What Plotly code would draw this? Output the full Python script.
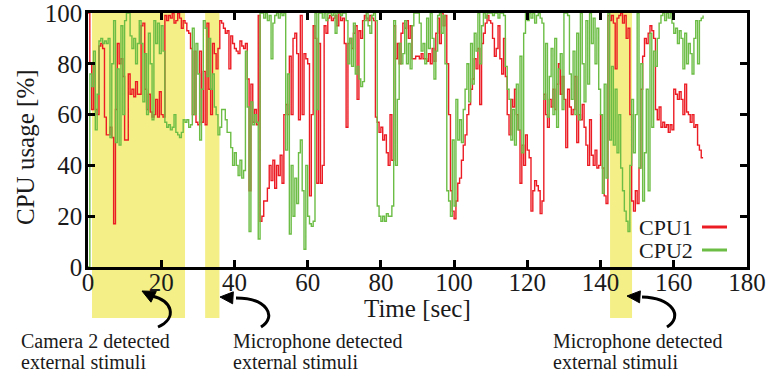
import numpy as np
import plotly.graph_objects as go

# Sampling step of the CPU monitor, seconds
SAMPLE_STEP = 0.5

# CPU usage samples [%], one row per 10 s of the run
cpu1 = [
    100, 80, 62, 80, 62, 60, 87, 88, 86, 59, 52, 52, 55, 51, 17, 62, 88, 80, 82, 75,
    50, 50, 76, 68, 70, 67, 73, 68, 68, 95, 96, 70, 62, 68, 61, 59, 60, 66, 59, 69,
    60, 59, 99, 97, 99, 98, 100, 96, 97, 100, 98, 94, 97, 96, 93, 92, 86, 60, 85, 57,
    56, 85, 57, 77, 56, 96, 70, 60, 88, 84, 78, 86, 97, 96, 94, 92, 93, 78, 91, 88,
    86, 85, 84, 89, 87, 86, 88, 74, 30, 72, 57, 62, 56, 99, 18, 20, 26, 26, 31, 40,
    34, 42, 31, 40, 36, 44, 33, 60, 64, 60, 83, 60, 90, 92, 84, 58, 99, 60, 84, 82,
    80, 28, 60, 95, 90, 33, 88, 33, 40, 95, 92, 98, 99, 97, 98, 99, 95, 100, 97, 98,
    88, 55, 88, 90, 86, 92, 95, 66, 93, 90, 97, 99, 98, 97, 99, 98, 97, 59, 57, 53,
    55, 50, 52, 45, 40, 60, 42, 95, 82, 88, 80, 92, 96, 94, 97, 90, 95, 82, 82, 83,
    83, 82, 84, 82, 82, 81, 84, 80, 86, 81, 92, 98, 88, 100, 95, 99, 80, 60, 30, 22,
    19, 26, 33, 35, 42, 48, 52, 60, 64, 70, 74, 82, 78, 86, 64, 88, 92, 96, 99, 97,
    96, 90, 83, 86, 95, 82, 76, 90, 75, 60, 52, 66, 63, 70, 60, 54, 33, 48, 40, 52,
    46, 43, 22, 30, 34, 32, 30, 21, 26, 68, 60, 55, 66, 63, 70, 62, 72, 80, 68, 75,
    66, 47, 70, 63, 60, 62, 75, 49, 60, 58, 64, 55, 48, 40, 58, 44, 40, 46, 39, 40,
    60, 39, 28, 25, 99, 97, 99, 96, 78, 98, 99, 100, 96, 99, 90, 94, 60, 26, 22, 30,
    25, 39, 70, 83, 90, 88, 92, 95, 93, 90, 62, 58, 63, 55, 57, 55, 56, 53, 56, 54,
    70, 68, 66, 69, 66, 60, 72, 61, 60, 57, 60, 55, 56, 48, 46, 43, 43,
]
cpu2 = [
    0, 76, 71, 85, 54, 68, 89, 90, 88, 89, 88, 90, 51, 80, 97, 49, 78, 48, 95, 60,
    97, 100, 100, 91, 86, 90, 80, 88, 97, 88, 65, 84, 60, 92, 80, 58, 97, 88, 96, 84,
    95, 85, 57, 55, 56, 54, 55, 60, 53, 52, 51, 53, 58, 57, 58, 55, 56, 94, 60, 88,
    76, 50, 70, 97, 94, 75, 90, 70, 76, 63, 60, 52, 55, 62, 62, 58, 53, 53, 47, 40,
    45, 40, 36, 42, 35, 38, 85, 63, 14, 65, 56, 60, 57, 11, 100, 100, 98, 100, 97, 99,
    82, 96, 99, 100, 98, 100, 99, 100, 46, 76, 13, 40, 20, 35, 25, 45, 50, 30, 7, 40,
    20, 17, 16, 18, 100, 62, 100, 100, 98, 100, 97, 100, 100, 99, 100, 92, 100, 100, 99, 100,
    100, 97, 80, 90, 79, 96, 76, 79, 74, 71, 73, 97, 100, 95, 92, 99, 100, 97, 24, 20,
    18, 20, 18, 21, 20, 20, 24, 97, 40, 66, 88, 80, 84, 97, 80, 88, 78, 95, 100, 100,
    100, 96, 85, 88, 80, 98, 86, 100, 90, 74, 85, 99, 100, 92, 99, 80, 30, 26, 20, 50,
    24, 66, 50, 58, 49, 62, 70, 80, 65, 88, 72, 92, 85, 100, 80, 95, 100, 98, 100, 100,
    100, 99, 100, 100, 98, 100, 100, 99, 79, 70, 66, 50, 62, 48, 72, 54, 83, 45, 92, 100,
    97, 100, 98, 100, 96, 99, 100, 98, 96, 66, 88, 59, 75, 86, 60, 90, 55, 78, 84, 62,
    100, 100, 99, 76, 66, 85, 60, 92, 58, 100, 80, 65, 97, 72, 100, 88, 98, 80, 94, 70,
    60, 29, 72, 35, 100, 50, 79, 48, 70, 45, 60, 39, 30, 22, 18, 14, 40, 66, 45, 60,
    100, 39, 80, 26, 45, 70, 30, 92, 55, 85, 79, 90, 96, 99, 100, 97, 100, 98, 100, 96,
    92, 94, 88, 93, 90, 78, 92, 80, 88, 84, 76, 90, 97, 80, 97, 98, 99,
]
time_s = np.arange(len(cpu1)) * SAMPLE_STEP

# Intervals [start, end] in seconds where a sensor detected external stimuli
stimulus_windows = [(1.1, 26.5), (32.0, 35.9), (142.6, 148.6)]
stimulus_labels = [
    ("Camera 2 detected", "external stimuli"),
    ("Microphone detected", "external stimuli"),
    ("Microphone detected", "external stimuli"),
]

x_ticks = list(range(0, 181, 20))
y_ticks = list(range(0, 101, 20))

RED = "#ec1c24"
GREEN = "#6cbd45"
YELLOW = "#f4ef86"
FONT = "Liberation Serif"
INK = "#1a1a1a"

W, H = 769, 374
ML, MR, MT, MB = 88, 22, 13, 107
PW, PH = W - ML - MR, H - MT - MB


def px(xp, yp):
    """Pixel position on the page -> paper coordinates."""
    return (xp - ML) / PW, (H - MB - yp) / PH


fig = go.Figure()
fig.add_trace(go.Scatter(x=time_s, y=cpu1, mode="lines", name="CPU1",
                         line=dict(color=RED, width=1.4, shape="hv")))
fig.add_trace(go.Scatter(x=time_s, y=cpu2, mode="lines", name="CPU2",
                         line=dict(color=GREEN, width=1.4, shape="hv")))

shapes = []
for (t0, t1) in stimulus_windows:
    shapes.append(dict(type="rect", xref="x", yref="paper", x0=t0, x1=t1,
                       y0=px(0, 318)[1], y1=1, fillcolor=YELLOW,
                       line=dict(width=0), layer="below"))


def curved_arrow(p0, c1, c2, p1, tip):
    pts = [px(*p) for p in (p0, c1, c2, p1)]
    path = "M {:.5f},{:.5f} C {:.5f},{:.5f} {:.5f},{:.5f} {:.5f},{:.5f}".format(
        *pts[0], *pts[1], *pts[2], *pts[3])
    shapes.append(dict(type="path", xref="paper", yref="paper", path=path,
                       line=dict(color="black", width=3)))
    # arrow head
    d = np.array(tip, float) - np.array(p1, float)
    d /= np.linalg.norm(d)
    n = np.array([-d[1], d[0]])
    base = np.array(tip, float) - d * 13
    a = base + n * 6
    b = base - n * 6
    hp = [px(*tip), px(*a), px(*b)]
    head = "M {:.5f},{:.5f} L {:.5f},{:.5f} L {:.5f},{:.5f} Z".format(*hp[0], *hp[1], *hp[2])
    shapes.append(dict(type="path", xref="paper", yref="paper", path=head,
                       fillcolor="black", line=dict(color="black", width=1)))


curved_arrow((158, 327), (178, 318), (172, 300), (152, 296), (142, 291))
curved_arrow((261, 327), (278, 316), (266, 298), (236, 298), (220, 297))
curved_arrow((667, 327), (684, 316), (672, 298), (642, 297), (627, 296))

annotations = []
for xl, lines in zip((19, 231, 551), stimulus_labels):
    for yp, line_text in zip((341, 362), lines):
        ax, ay = px(xl, yp)
        annotations.append(dict(x=ax, y=ay, xref="paper", yref="paper", text=line_text,
                                showarrow=False, xanchor="left", yanchor="middle",
                                font=dict(family=FONT, size=20, color=INK)))

# axis titles
tx, ty = px(417, 308)
annotations.append(dict(x=tx, y=ty, xref="paper", yref="paper", text="Time [sec]",
                        showarrow=False, xanchor="center", yanchor="middle",
                        font=dict(family=FONT, size=25, color=INK)))
tx, ty = px(25, 147)
annotations.append(dict(x=tx, y=ty, xref="paper", yref="paper", text="CPU usage [%]",
                        showarrow=False, xanchor="center", yanchor="middle", textangle=-90,
                        font=dict(family=FONT, size=25, color=INK)))

# legend drawn as text plus line samples
for name, color, yp in (("CPU1", RED, 227), ("CPU2", GREEN, 250)):
    tx, ty = px(695, yp)
    annotations.append(dict(x=tx, y=ty, xref="paper", yref="paper", text=name,
                            showarrow=False, xanchor="right", yanchor="middle",
                            font=dict(family=FONT, size=22, color=INK)))
    lx0, ly = px(702, yp)
    lx1, _ = px(727, yp)
    shapes.append(dict(type="line", xref="paper", yref="paper", x0=lx0, x1=lx1,
                       y0=ly, y1=ly, line=dict(color=color, width=3)))

axis_common = dict(showline=True, linecolor="black", linewidth=2.5, mirror="ticks",
                   ticks="inside", ticklen=7, tickwidth=2.5, tickcolor="black",
                   showgrid=False, zeroline=False, automargin=False,
                   ticklabeloverflow="allow",
                   tickfont=dict(family=FONT, size=25, color=INK))

fig.update_layout(
    width=W, height=H,
    margin=dict(l=ML, r=MR, t=MT, b=MB),
    paper_bgcolor="white", plot_bgcolor="white",
    showlegend=False,
    shapes=shapes, annotations=annotations,
    xaxis=dict(range=[0, 180], tickvals=x_ticks, ticktext=[str(v) for v in x_ticks],
               ticklabelstandoff=-9, **axis_common),
    yaxis=dict(range=[0, 100], tickvals=y_ticks, ticktext=[str(v) for v in y_ticks],
               ticklabelstandoff=-2, **axis_common),
)

fig.write_html("out.html")
